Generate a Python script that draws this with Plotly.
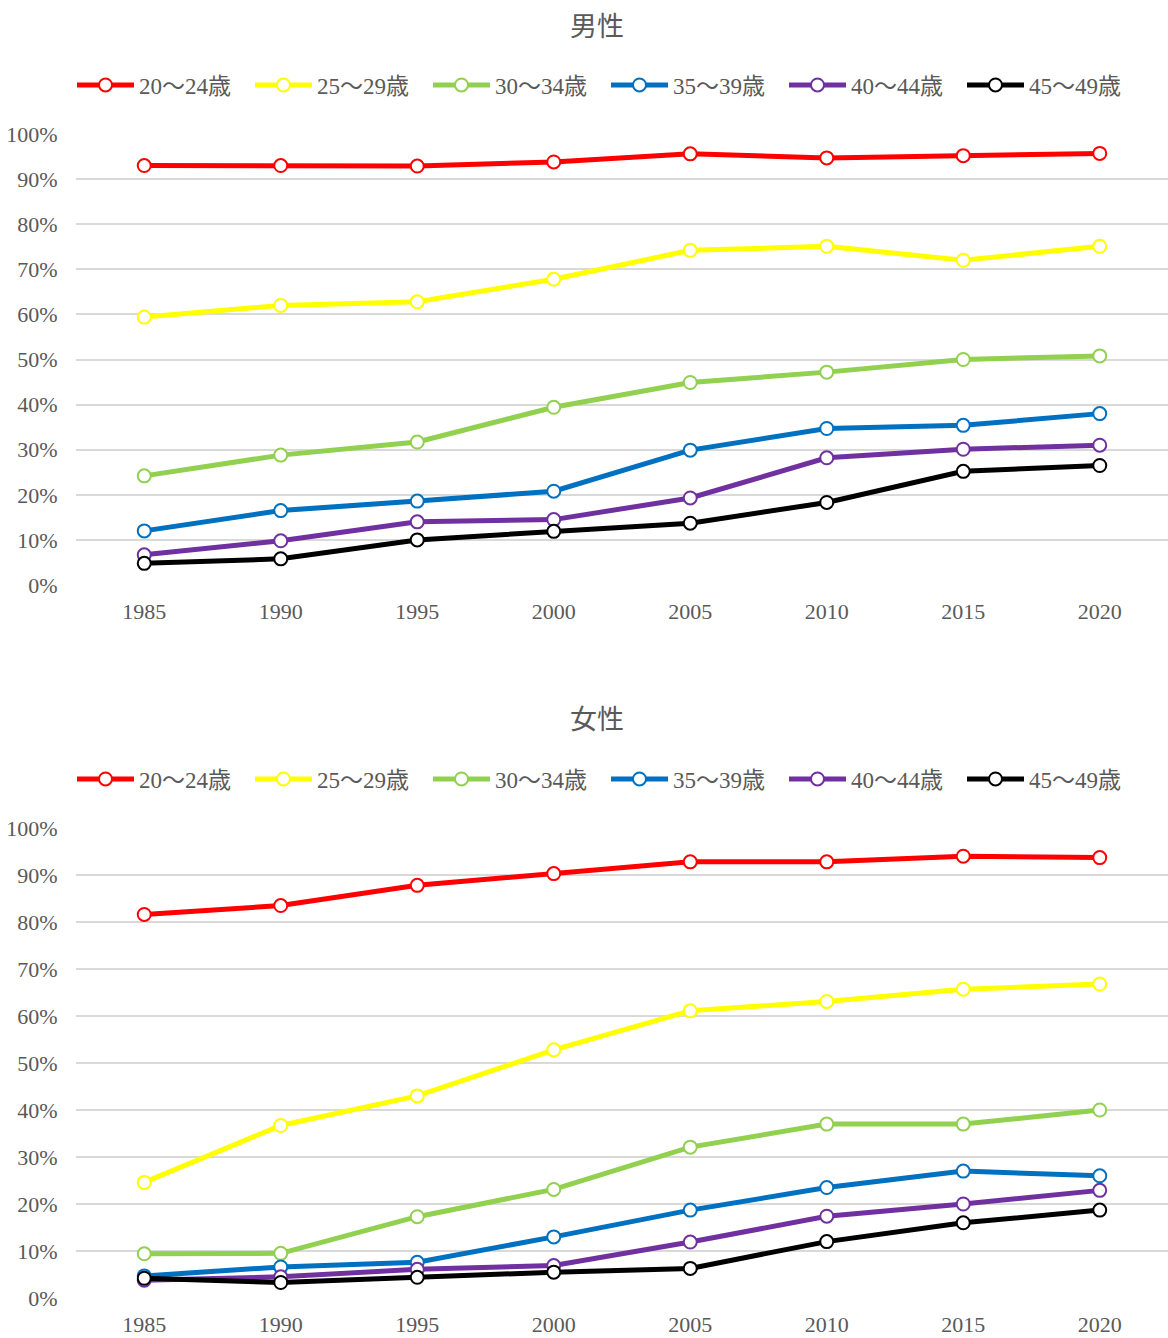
import plotly.graph_objects as go
from plotly.subplots import make_subplots

years = [1985, 1990, 1995, 2000, 2005, 2010, 2015, 2020]
age_groups = ["20～24歳", "25～29歳", "30～34歳", "35～39歳", "40～44歳", "45～49歳"]
colors = ["#FF0000", "#FFFF00", "#92D050", "#0070C0", "#7030A0", "#000000"]

# 男性 (share, 0-1)
male_20_24 = [0.930, 0.930, 0.929, 0.938, 0.956, 0.947, 0.952, 0.957]
male_25_29 = [0.594, 0.620, 0.628, 0.678, 0.742, 0.751, 0.720, 0.751]
male_30_34 = [0.242, 0.288, 0.317, 0.394, 0.449, 0.472, 0.500, 0.508]
male_35_39 = [0.120, 0.165, 0.186, 0.208, 0.299, 0.347, 0.354, 0.380]
male_40_44 = [0.067, 0.098, 0.140, 0.145, 0.193, 0.282, 0.301, 0.310]
male_45_49 = [0.048, 0.058, 0.100, 0.119, 0.137, 0.183, 0.252, 0.265]

# 女性
female_20_24 = [0.816, 0.835, 0.878, 0.903, 0.928, 0.928, 0.940, 0.937]
female_25_29 = [0.246, 0.367, 0.430, 0.528, 0.611, 0.631, 0.657, 0.668]
female_30_34 = [0.094, 0.095, 0.173, 0.231, 0.321, 0.370, 0.370, 0.400]
female_35_39 = [0.047, 0.066, 0.076, 0.130, 0.187, 0.235, 0.270, 0.260]
female_40_44 = [0.038, 0.045, 0.061, 0.069, 0.119, 0.174, 0.200, 0.229]
female_45_49 = [0.042, 0.033, 0.044, 0.055, 0.063, 0.120, 0.160, 0.187]

male = [male_20_24, male_25_29, male_30_34, male_35_39, male_40_44, male_45_49]
female = [female_20_24, female_25_29, female_30_34, female_35_39, female_40_44, female_45_49]

FONT = "Liberation Serif, Noto Sans CJK JP"
GREY = "#595959"
W, H = 1168, 1338
L = 76

fig = make_subplots(rows=2, cols=1)

for row, data, leg in [(1, male, "legend"), (2, female, "legend2")]:
    for name, vals, c in zip(age_groups, data, colors):
        fig.add_trace(go.Scatter(
            x=years, y=vals, name=name, mode="lines+markers",
            line=dict(color=c, width=5),
            marker=dict(size=13, color="white", line=dict(color=c, width=2)),
            legend=leg, showlegend=True,
        ), row=row, col=1)

def ydom(top_px, bot_px):
    return [1 - bot_px / H, 1 - top_px / H]

fig.update_xaxes(
    tickmode="array", tickvals=years, range=[1982.5, 2022.5],
    showgrid=False, showline=False, zeroline=False, automargin=False,
    tickfont=dict(family=FONT, size=22, color=GREY),
    ticks="outside", ticklen=0, ticklabelstandoff=7,
)
fig.update_yaxes(
    range=[0, 1], dtick=0.1, tickformat=".0%",
    showgrid=True, gridcolor="#D9D9D9", gridwidth=1.5,
    zeroline=False, showline=False, automargin=False,
    tickfont=dict(family=FONT, size=22, color=GREY),
    ticks="outside", ticklen=0, ticklabelstandoff=13,
)
fig.update_layout(
    yaxis=dict(domain=ydom(134, 585)),
    yaxis2=dict(domain=ydom(828, 1298)),
)

legend_common = dict(
    orientation="h", xanchor="left", yanchor="middle",
    xref="container", yref="container", x=72 / W,
    font=dict(family=FONT, size=23, color=GREY),
    entrywidth=106, entrywidthmode="pixels", itemwidth=57,
    bgcolor="rgba(0,0,0,0)", tracegroupgap=0,
)
fig.update_layout(
    legend=dict(y=1 - 85 / H, **legend_common),
    legend2=dict(y=1 - 779 / H, **legend_common),
)

for txt, ypx in [("男性", 27), ("女性", 720)]:
    fig.add_annotation(text=txt, x=(597 - L) / (W - L), y=1 - ypx / H,
                       xref="paper", yref="paper", yanchor="middle", showarrow=False,
                       font=dict(family=FONT, size=27, color=GREY))

fig.update_layout(
    width=W, height=H,
    margin=dict(l=L, r=0, t=0, b=0, autoexpand=False),
    paper_bgcolor="white", plot_bgcolor="white",
)

# page body has a default 8px margin; drop it so the figure sits at 0,0
fig.write_html("out.html", config={"displayModeBar": False},
               post_script="document.body.style.margin='0';")
